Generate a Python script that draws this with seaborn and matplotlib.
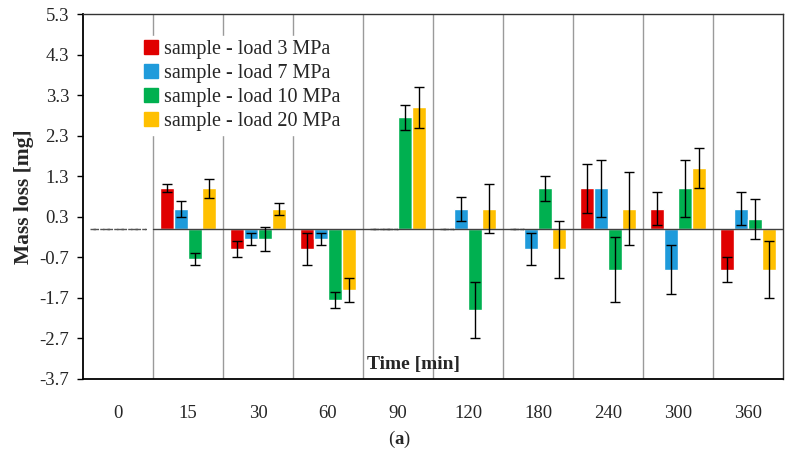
import numpy as np
import pandas as pd
import matplotlib
matplotlib.use("Agg")
import matplotlib.pyplot as plt
import seaborn as sns
from matplotlib.patches import Patch

times = ["0", "15", "30", "60", "90", "120", "180", "240", "300", "360"]
series = ["sample - load 3 MPa", "sample - load 7 MPa",
          "sample - load 10 MPa", "sample - load 20 MPa"]
load3 = [0, 1.0, -0.5, -0.5, 0, 0, 0, 1.0, 0.5, -1.0]
load7 = [0, 0.5, -0.25, -0.25, 0, 0.5, -0.5, 1.0, -1.0, 0.5]
load10 = [0, -0.75, -0.25, -1.75, 2.75, -2.0, 1.0, -1.0, 1.0, 0.25]
load20 = [0, 1.0, 0.5, -1.5, 3.0, 0.5, -0.5, 0.5, 1.5, -1.0]
err3 = [np.nan, 0.1, 0.2, 0.4, np.nan, np.nan, np.nan, 0.6, 0.4, 0.3]
err7 = [np.nan, 0.2, 0.15, 0.15, np.nan, 0.3, 0.4, 0.7, 0.6, 0.4]
err10 = [np.nan, 0.15, 0.3, 0.2, 0.3, 0.7, 0.3, 0.8, 0.7, 0.5]
err20 = [np.nan, 0.23, 0.15, 0.3, 0.5, 0.6, 0.7, 0.9, 0.5, 0.7]
colors = ["#E00000", "#1F9BDB", "#00B050", "#FFC000"]
yticks = [-3.7, -2.7, -1.7, -0.7, 0.3, 1.3, 2.3, 3.3, 4.3, 5.3]

values = [load3, load7, load10, load20]
errors = [err3, err7, err10, err20]

df = pd.DataFrame({
    "time": times * 4,
    "value": sum(values, []),
    "series": [s for s in series for _ in times],
})

sns.set_theme(style="white")
plt.rcParams["font.family"] = ["Liberation Serif", "DejaVu Serif"]
plt.rcParams["mathtext.fontset"] = "custom"
plt.rcParams["mathtext.rm"] = "Liberation Serif"
plt.rcParams["mathtext.bf"] = "Liberation Serif:bold"

fig = plt.figure(figsize=(7.92, 4.58), dpi=100)
ax = fig.add_axes([0.1048, 0.1725, 0.8838, 0.7969])

sns.barplot(data=df, x="time", y="value", hue="series", order=times,
            hue_order=series, palette=colors, width=0.8, errorbar=None,
            saturation=1, ax=ax, legend=False, zorder=3)

for cont, errs in zip(ax.containers, errors):
    xs = [p.get_x() + p.get_width() / 2 for p in cont.patches]
    ys = [p.get_height() for p in cont.patches]
    ax.errorbar(xs, ys, yerr=errs, fmt="none", ecolor="black",
                elinewidth=1.0, capsize=3.5, capthick=1.0, zorder=4)
    for p in cont.patches:
        if p.get_height() == 0:
            p.set_edgecolor("#555555")
            p.set_linestyle((0, (4, 3)))
            p.set_linewidth(1.0)

n = len(times)
for i in range(n - 1):
    ax.axvline(i + 0.5, color="#9a9a9a", lw=1.0, zorder=1)
ax.axhline(0, xmin=1 / n, color="#404040", lw=1.0, zorder=3.5)

ax.set_xlim(-0.5, n - 0.5)
ax.set_ylim(yticks[0], yticks[-1])
ax.set_yticks(yticks)
ax.set_yticklabels([f"{t:.1f}" for t in yticks], fontsize=13.5)
ax.set_xticks(range(n))
ax.set_xticklabels(times, fontsize=13.5)
ax.tick_params(axis="x", length=0, pad=19)
ax.tick_params(axis="y", length=4, width=1, color="black", pad=6, direction="out", left=True)
for s in ax.spines.values():
    s.set_color("#333333")
    s.set_linewidth(1.0)
ax.spines["left"].set_color("black")
ax.spines["bottom"].set_color("black")
ax.spines["left"].set_linewidth(1.3)
ax.spines["bottom"].set_linewidth(1.3)

ax.set_xlabel("")
ax.set_ylabel("Mass loss [mg]", fontsize=15.5, fontweight="bold", labelpad=4)
ax.text(0.472, 0.04, "Time [min]", transform=ax.transAxes, ha="center",
        va="center", fontsize=14, fontweight="bold", zorder=5)

handles = [Patch(facecolor=c, edgecolor=c) for c in colors]
leg = ax.legend(handles, series, loc="upper left", bbox_to_anchor=(0.082, 0.94),
                frameon=True, fontsize=14.5, handlelength=0.65, handleheight=0.65,
                handletextpad=0.3, labelspacing=0.25, borderpad=0.2,
                borderaxespad=0)
leg.get_frame().set_facecolor("white")
leg.get_frame().set_edgecolor("white")
leg.get_frame().set_alpha(1)
leg.set_zorder(6)

fig.text(0.505, 0.04, r"($\mathbf{a}$)", ha="center", va="center", fontsize=13.5)

fig.savefig("out.png", dpi=100)
